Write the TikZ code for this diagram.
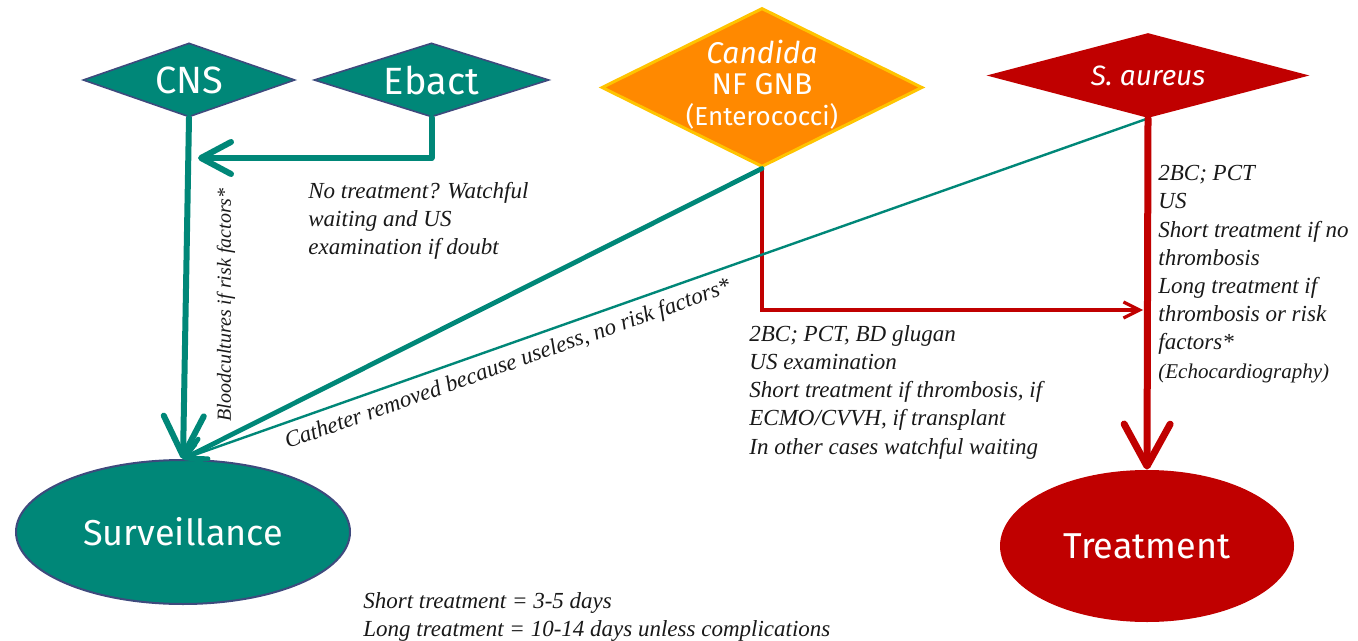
\documentclass[tikz,border=0pt]{standalone}
\usepackage{fontspec}
\setmainfont{Liberation Serif}
\newfontfamily\comic{Fira Sans}
\usetikzlibrary{shapes.geometric,arrows.meta}
\definecolor{teal1}{RGB}{0,135,120}
\definecolor{navyb}{RGB}{62,74,125}
\definecolor{orng}{RGB}{255,137,0}
\definecolor{orngb}{RGB}{255,196,0}
\definecolor{red1}{RGB}{192,0,0}
\definecolor{txt}{RGB}{25,25,25}
\begin{document}
\begin{tikzpicture}[x=0.5pt,y=-0.5pt,
  dia/.style={shape=diamond,inner sep=0pt,text=white,font=\comic},
  ell/.style={shape=ellipse,inner sep=0pt,text=white,font=\comic\fontsize{18}{20}\selectfont},
  note/.style={inner sep=0pt,align=left,text=txt,font=\fontsize{11.5}{14.1}\selectfont\itshape},
  tealthick/.style={draw=teal1,line width=3pt,line cap=round,line join=round},
  tealmid/.style={draw=teal1,line width=2.4pt,line cap=round},
  tealthin/.style={draw=teal1,line width=1.2pt,line cap=round},
  redthin/.style={draw=red1,line width=1.6pt,line join=miter},
  redthick/.style={draw=red1,line width=3.5pt,line cap=round}]
\useasboundingbox (0,0) rectangle (1358,641);
% shapes
\node[dia,fill=teal1,draw=navyb,line width=0.8pt,shape aspect=2.86,minimum width=106pt,minimum height=37pt,
  font=\comic\fontsize{19}{21}\selectfont] (cns) at (189,80) {CNS};
\node[dia,fill=teal1,draw=navyb,line width=0.8pt,shape aspect=3.17,minimum width=117.5pt,minimum height=37pt,
  font=\comic\fontsize{19}{21}\selectfont] (ebact) at (431.5,80) {Ebact};
\node[dia,fill=orng,draw=orngb,line width=1.5pt,shape aspect=2,minimum width=160.5pt,minimum height=79.5pt,
  inner sep=-4pt,font=\comic\fontsize{15}{15.5}\selectfont] (cand) at (762,87.5)
  {\raisebox{2pt}{\begin{tabular}{@{}c@{}}{\itshape Candida}\\NF GNB\\{\fontsize{13}{15.5}\selectfont(Enterococci)}\end{tabular}}};
\node[dia,fill=red1,shape aspect=3.8,minimum width=161.5pt,minimum height=42.5pt,
  font=\comic\itshape\fontsize{14}{16}\selectfont] (sa) at (1148,75.5) {S. aureus};
\node[ell,fill=teal1,draw=navyb,line width=1pt,minimum width=167pt,minimum height=72pt] (surv) at (183,532) {Surveillance};
\node[ell,fill=red1,minimum width=147pt,minimum height=76pt] (treat) at (1147,546) {Treatment};
% junction points
\coordinate (ej) at (198,158);
\coordinate (rj) at (1143,310);
% connectors
\draw[redthin,-{Straight Barb[length=8pt,width=8pt]}] (cand.south) |- (rj);
\draw[tealthick,-{Straight Barb[length=20pt,width=20pt,round]}] (cns.south) -- (surv.north);
\draw[tealthick,-{Straight Barb[length=15pt,width=16pt,round]}] (ebact.south) |- (ej);
\draw[tealmid,-{Straight Barb[length=10pt,width=11pt,round]}] (cand.south) -- (surv.north);
\draw[tealthin,-{Straight Barb[length=8pt,width=9pt,round]}] (sa.south) -- (surv.north)
  node[pos=0.67,sloped,below=4pt,inner sep=0pt,text=txt,font=\fontsize{11.5}{14}\selectfont\itshape] (cath)
  {Catheter removed because useless, no risk factors*};
\draw[redthick,-{Straight Barb[length=21pt,width=23pt,round]}] (sa.south) -- (treat.north);
% texts
\node[note,anchor=north west] (t1) at (308,182) {No treatment? Watchful\\waiting and US\\examination if doubt};
\node[inner sep=0pt,rotate=90,text=txt,font=\fontsize{10}{12}\selectfont\itshape] (t2) at (226,305) {Bloodcultures if risk factors*};
\node[note,anchor=north west] (t3) at (749,325) {2BC; PCT, BD glugan\\US examination\\Short treatment if thrombosis, if\\ECMO/CVVH, if transplant\\In other cases watchful waiting};
\node[note,anchor=north west] (t4) at (1158,165) {2BC; PCT\\US\\Short treatment if no\\thrombosis\\Long treatment if\\thrombosis or risk\\factors*\\{\fontsize{10.5}{14.1}\selectfont(Echocardiography)}};
\node[note,anchor=north west,font=\fontsize{11.5}{14}\selectfont\itshape] (t5) at (363,592) {Short treatment = 3-5 days\\Long treatment = 10-14 days unless complications};
\end{tikzpicture}
\end{document}
